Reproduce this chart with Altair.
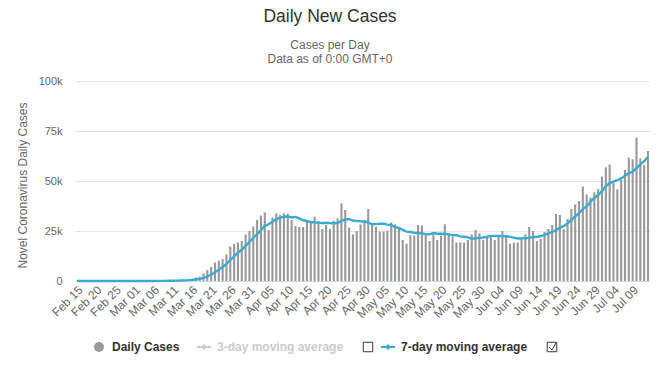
import altair as alt
import pandas as pd

# ---- data (daily new cases) ----
feb_cases = [0, 0, 0, 0, 0, 0, 2, 0, 0, 18, 0, 6, 1, 1, 8]
mar_cases = [7, 23, 20, 31, 68, 45, 140, 116, 65, 376, 322, 382, 516, 548, 772,
             1133, 1789, 2200, 3800, 5500, 7000, 9300, 10200, 11000, 13300,
             17200, 18500, 19300, 20000, 23300, 25000]
apr_cases = [27200, 30500, 32700, 34300, 25500, 31800, 33800, 33000, 33800, 33800,
             30500, 27500, 27000, 27000, 30500, 30000, 32200, 30000, 26000, 28000,
             26000, 30000, 31300, 38800, 35500, 26700, 23300, 25000, 28300, 30500]
may_cases = [36000, 28800, 27200, 24700, 24700, 25200, 29300, 28300, 26300, 20500,
             18700, 23000, 22700, 28000, 27700, 23300, 20000, 23300, 20500, 22700,
             28300, 24000, 22200, 19300, 19300, 19200, 20500, 23300, 25500, 23800, 20500]
jun_cases = [22200, 22200, 20500, 23000, 25000, 23000, 18700, 19200, 19200, 21000,
             23300, 27000, 25000, 20000, 21000, 24500, 26000, 28000, 33500, 33000,
             26000, 31000, 36000, 38300, 40000, 47200, 43300, 41700, 44300, 46000]
jul_cases = [52200, 56800, 58300, 49300, 45800, 50500, 55500, 61700, 60800, 71700,
             61300, 58000, 65000]

cases = feb_cases + mar_cases + apr_cases + may_cases + jun_cases + jul_cases
dates = [d.strftime("%b %d") for d in pd.date_range("2020-02-15", periods=len(cases), freq="D")]
tick_labels = dates[::5]
y_ticks = [0, 25000, 50000, 75000, 100000]

df = pd.DataFrame({"date": dates, "idx": list(range(len(cases))), "cases": cases})
one = pd.DataFrame({"k": [0]})

FONT = "Liberation Sans"
BAR = "#999999"
LINE = "#3aa9d3"

xscale = alt.Scale(type="band", paddingInner=0.45, paddingOuter=0.25)

base = alt.Chart(df)

bars = base.mark_bar(color=BAR).encode(
    x=alt.X("date:O", sort=dates, scale=xscale,
            axis=alt.Axis(values=tick_labels, title=None, labelAngle=-45,
                          labelAlign="right", labelBaseline="top",
                          labelFontSize=12, labelColor="#666666", labelFont=FONT,
                          labelPadding=3, ticks=False, domainColor="#ccd6eb",
                          domainWidth=1, grid=False, labelOverlap=False)),
    y=alt.Y("cases:Q", scale=alt.Scale(domain=[0, 100000], nice=False),
            axis=alt.Axis(values=y_ticks,
                          labelExpr="datum.value == 0 ? '0' : (datum.value / 1000) + 'k'",
                          grid=True, gridColor="#e6e6e6", domain=False, ticks=False,
                          labelColor="#666666", labelFontSize=11, labelFont=FONT,
                          labelPadding=13,
                          title="Novel Coronavirus Daily Cases",
                          titleFont=FONT, titleFontSize=12, titleFontWeight="normal",
                          titleColor="#666666", titleX=-53, titleY=104,
                          titleAngle=-90, titleAlign="center", titleBaseline="middle")),
)

line = base.transform_window(
    ma="mean(cases)", frame=[-6, 0], sort=[alt.SortField("idx")]
).mark_line(color=LINE, strokeWidth=2.4).encode(
    x=alt.X("date:O", sort=dates, scale=xscale, bandPosition=0.5),
    y=alt.Y("ma:Q"),
)

def txt(s, x, y, size, color, weight="normal", align="center"):
    return alt.Chart(one).mark_text(
        font=FONT, fontSize=size, color=color, fontWeight=weight,
        align=align, baseline="middle"
    ).encode(x=alt.value(x), y=alt.value(y), text=alt.value(s))

title = txt("Daily New Cases", 255, -64, 17.5, "#333333")
sub1 = txt("Cases per Day", 255, -36, 12, "#666666")
sub2 = txt("Data as of 0:00 GMT+0", 255, -22, 12, "#666666")

LY = 266
leg_dot = alt.Chart(one).mark_point(shape="circle", filled=True, size=100, color=BAR, opacity=1).encode(
    x=alt.value(24), y=alt.value(LY))
leg_t1 = txt("Daily Cases", 37, LY, 12, "#333333", "bold", "left")
leg_l3 = alt.Chart(one).mark_rule(color="#cccccc", strokeWidth=2).encode(
    x=alt.value(122), x2=alt.value(136), y=alt.value(LY))
leg_m3 = alt.Chart(one).mark_point(shape="diamond", filled=True, size=35, color="#cccccc", opacity=1).encode(
    x=alt.value(129), y=alt.value(LY))
leg_t3 = txt("3-day moving average", 142, LY, 12, "#cccccc", "bold", "left")
box1 = alt.Chart(one).mark_point(shape="square", filled=False, size=90, color="#333333",
                                 strokeWidth=1, opacity=1).encode(x=alt.value(293), y=alt.value(LY))
leg_l7 = alt.Chart(one).mark_rule(color=LINE, strokeWidth=2).encode(
    x=alt.value(306), x2=alt.value(320), y=alt.value(LY))
leg_m7 = alt.Chart(one).mark_point(shape="diamond", filled=True, size=35, color=LINE, opacity=1).encode(
    x=alt.value(313), y=alt.value(LY))
leg_t7 = txt("7-day moving average", 326, LY, 12, "#333333", "bold", "left")
box2 = alt.Chart(one).mark_point(shape="square", filled=False, size=90, color="#333333",
                                 strokeWidth=1, opacity=1).encode(x=alt.value(477), y=alt.value(LY))
chk1 = alt.Chart(one).mark_rule(color="#333333", strokeWidth=1).encode(
    x=alt.value(474), y=alt.value(LY), x2=alt.value(477), y2=alt.value(LY + 3))
chk2 = alt.Chart(one).mark_rule(color="#333333", strokeWidth=1).encode(
    x=alt.value(477), y=alt.value(LY + 3), x2=alt.value(481), y2=alt.value(LY - 4))

chart = alt.layer(
    bars, line, title, sub1, sub2,
    leg_dot, leg_t1, leg_l3, leg_m3, leg_t3, box1, leg_l7, leg_m7, leg_t7, box2, chk1, chk2
).properties(
    width=575, height=200,
    autosize=alt.AutoSizeParams(type="none"),
    padding={"left": 75, "top": 81, "right": 9, "bottom": 94},
    background="white",
).configure_view(stroke=None)

chart.save("out.html", embed_options={"renderer": "svg", "actions": False})
